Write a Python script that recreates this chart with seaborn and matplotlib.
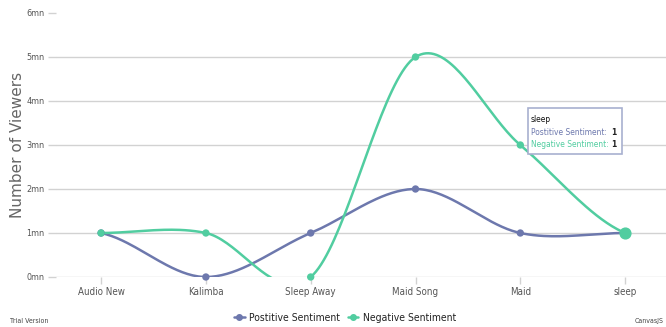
import numpy as np
import pandas as pd
import matplotlib
matplotlib.use("Agg")
import matplotlib.pyplot as plt
import seaborn as sns
from matplotlib.lines import Line2D
from matplotlib.patches import FancyBboxPatch

songs = ["Audio New", "Kalimba", "Sleep Away", "Maid Song", "Maid", "sleep"]
positive = [1, 0, 1, 2, 1, 1]
negative = [1, 1, 0, 5, 3, 1]
y_ticks = [0, 1, 2, 3, 4, 5, 6]
y_tick_labels = ["0mn", "1mn", "2mn", "3mn", "4mn", "5mn", "6mn"]

POS_COLOR = "#6d78ad"
NEG_COLOR = "#51cda0"
GRID = "#d2d2d2"
TEXT = "#666666"

sns.set_theme(style="white")
plt.rcParams["font.family"] = ["DejaVu Sans"]
plt.rcParams["font.stretch"] = "condensed"


def catmull_rom(values, steps=40):
    """Smooth curve through the points (cardinal spline, tension 0.5)."""
    p = np.asarray(values, dtype=float)
    n = len(p)
    m = np.zeros(n)
    m[1:-1] = (p[2:] - p[:-2]) / 2.0
    m[0] = (p[1] - p[0]) / 2.0
    m[-1] = (p[-1] - p[-2]) / 2.0
    xs, ys = [], []
    t = np.linspace(0, 1, steps, endpoint=False)
    h00 = 2 * t**3 - 3 * t**2 + 1
    h10 = t**3 - 2 * t**2 + t
    h01 = -2 * t**3 + 3 * t**2
    h11 = t**3 - t**2
    for i in range(n - 1):
        xs.append(i + t)
        ys.append(h00 * p[i] + h10 * m[i] + h01 * p[i + 1] + h11 * m[i + 1])
    xs.append(np.array([n - 1.0]))
    ys.append(np.array([p[-1]]))
    return np.concatenate(xs), np.concatenate(ys)


W, H = 666, 327
fig = plt.figure(figsize=(W / 100, H / 100), dpi=100)
ax = fig.add_axes([56 / W, 50 / H, (W - 56) / W, 264 / H])

x_idx = np.arange(len(songs))
curves = []
points = []
for name, vals in [("Postitive Sentiment", positive), ("Negative Sentiment", negative)]:
    cx, cy = catmull_rom(vals)
    curves.append(pd.DataFrame({"x": cx, "y": cy, "series": name}))
    points.append(pd.DataFrame({"x": x_idx, "y": vals, "series": name}))
curve_df = pd.concat(curves, ignore_index=True)
point_df = pd.concat(points, ignore_index=True)
palette = {"Postitive Sentiment": POS_COLOR, "Negative Sentiment": NEG_COLOR}

for yv in y_ticks[:-1]:
    ax.axhline(yv, color=GRID, lw=1.0, zorder=0)

sns.lineplot(data=curve_df, x="x", y="y", hue="series", palette=palette,
             lw=1.8, ax=ax, legend=False, sort=False, estimator=None)
sns.scatterplot(data=point_df, x="x", y="y", hue="series", palette=palette,
                s=28, edgecolor="none", ax=ax, legend=False, zorder=5)
for coll in ax.collections:
    coll.set_clip_on(False)
# highlighted point under the tooltip
ax.scatter([5], [negative[5]], s=60, color=NEG_COLOR, zorder=6, clip_on=False)

ax.set_xlim(-0.43, 5.39)
ax.set_ylim(0, 6)
ax.set_xticks(x_idx)
ax.set_xticklabels(songs)
ax.set_yticks(y_ticks)
ax.set_yticklabels(y_tick_labels)
ax.set_xlabel("")
ax.set_ylabel("Number of Viewers", fontsize=11, color=TEXT,
              family=["DejaVu Sans"], stretch="normal")
ax.yaxis.set_label_coords(-31 / (W - 56), 0.5)
for s in ["top", "right", "left", "bottom"]:
    ax.spines[s].set_visible(False)
ax.tick_params(axis="x", length=5, width=1, color=GRID, labelsize=7,
               labelcolor="#555555", pad=2, bottom=True)
ax.tick_params(axis="y", length=6, width=1, color=GRID, labelsize=6.5,
               labelcolor="#555555", pad=2.5, left=True)

# legend
handles = [Line2D([0], [0], color=POS_COLOR, lw=1.8, marker="o", markersize=4),
           Line2D([0], [0], color=NEG_COLOR, lw=1.8, marker="o", markersize=4)]
fig.legend(handles, ["Postitive Sentiment", "Negative Sentiment"],
           loc="center", bbox_to_anchor=(345 / W, 1 - 318 / H), ncol=2,
           frameon=False, fontsize=7.5, handlelength=1.0, handletextpad=0.4,
           columnspacing=0.8, labelcolor="#222222")

# tooltip
x0, y0, x1, y1 = 528, 108, 622, 154
box = FancyBboxPatch((x0 / W, 1 - y1 / H), (x1 - x0) / W, (y1 - y0) / H,
                     boxstyle="square,pad=0", transform=fig.transFigure,
                     facecolor="white", edgecolor="#a8b0d0", lw=1.2, zorder=20)
fig.add_artist(box)
fig.text(531 / W, 1 - 120 / H, "sleep", fontsize=6, color="#111111",
         va="center", zorder=21)
fig.text(531 / W, 1 - 133 / H, "Postitive Sentiment:", fontsize=6,
         color=POS_COLOR, va="center", zorder=21)
fig.text(616 / W, 1 - 133 / H, str(positive[5]), fontsize=6, color="#222222",
         va="center", ha="right", zorder=21, weight="bold")
fig.text(531 / W, 1 - 145 / H, "Negative Sentiment:", fontsize=6,
         color=NEG_COLOR, va="center", zorder=21)
fig.text(616 / W, 1 - 145 / H, str(negative[5]), fontsize=6, color="#222222",
         va="center", ha="right", zorder=21, weight="bold")

fig.text(10 / W, 1 - 321 / H, "Trial Version", fontsize=5, color="#444444",
         va="center")
fig.text(664 / W, 1 - 321 / H, "CanvasJS", fontsize=5, color="#444444",
         va="center", ha="right")

fig.savefig("out.png", dpi=100)
